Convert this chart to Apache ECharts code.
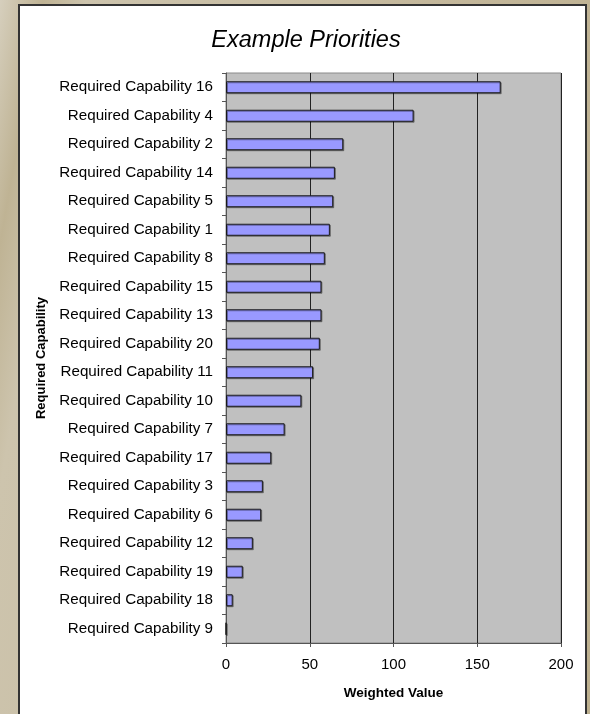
<!DOCTYPE html>
<html>
<head>
<meta charset="utf-8">
<script src="https://cdn.jsdelivr.net/npm/echarts@6/dist/echarts.min.js"></script>
<style>
  html, body { margin: 0; padding: 0; }
  body {
    width: 590px; height: 714px; overflow: hidden; position: relative;
    background: linear-gradient(100deg, #d6cfbd 0%, #bfb394 6%, #cdc4ad 12%, #c4b89c 60%, #bdb08f 100%);
  }
  #frame {
    position: absolute; left: 18px; top: 4px; width: 565px; height: 730px;
    background: #fff; border: 2px solid #333;
  }
  #main { position: absolute; left: 0; top: 0; width: 590px; height: 714px; }
</style>
</head>
<body>
<div id="frame"></div>
<div id="main"></div>
<script>
// categories, top to bottom
let capabilities = [
  'Required Capability 16', 'Required Capability 4', 'Required Capability 2',
  'Required Capability 14', 'Required Capability 5', 'Required Capability 1',
  'Required Capability 8', 'Required Capability 15', 'Required Capability 13',
  'Required Capability 20', 'Required Capability 11', 'Required Capability 10',
  'Required Capability 7', 'Required Capability 17', 'Required Capability 3',
  'Required Capability 6', 'Required Capability 12', 'Required Capability 19',
  'Required Capability 18', 'Required Capability 9'
];
// weighted value per capability
let weighted = [164, 112, 70, 65, 64, 62, 59, 57, 57, 56, 52, 45, 35, 27, 22, 21, 16, 10, 4, 0];

let xMin = 0;
let xMax = 200;
let xStep = 50;

var myChart = echarts.init(document.getElementById('main'));
var option;
option = {
  backgroundColor: 'transparent',
  animation: false,
  title: {
    text: 'Example Priorities',
    left: 301,
    top: 24,
    textAlign: 'center',
    textStyle: {
      fontFamily: 'Liberation Sans',
      fontSize: 23.5,
      fontStyle: 'italic',
      fontWeight: 'normal',
      color: '#000'
    }
  },
  grid: {
    left: 226, top: 73, right: 29, bottom: 71,
    show: true,
    backgroundColor: '#c0c0c0',
    borderColor: '#8a8a8a',
    borderWidth: 1
  },
  xAxis: {
    type: 'value',
    min: xMin, max: xMax, interval: xStep,
    name: 'Weighted Value',
    nameLocation: 'middle',
    nameGap: 43,
    nameTextStyle: { fontFamily: 'Liberation Sans', fontSize: 13.5, fontWeight: 'bold', color: '#000' },
    axisLine: { show: true, lineStyle: { color: '#555', width: 1 } },
    axisTick: { show: true, length: 4, lineStyle: { color: '#555' } },
    axisLabel: { margin: 14, fontFamily: 'Liberation Sans', fontSize: 15, color: '#000' },
    splitLine: { show: true, lineStyle: { color: '#222', width: 1 } }
  },
  yAxis: {
    type: 'category',
    data: capabilities,
    inverse: true,
    name: 'Required Capability',
    nameLocation: 'middle',
    nameGap: 178,
    nameRotate: 90,
    nameTextStyle: { fontFamily: 'Liberation Sans', fontSize: 13, fontWeight: 'bold', color: '#000' },
    axisLine: { show: true, lineStyle: { color: '#555', width: 1 } },
    axisTick: { show: true, length: 4, lineStyle: { color: '#555' } },
    axisLabel: { margin: 13, fontFamily: 'Liberation Sans', fontSize: 15.2, color: '#000' }
  },
  series: [{
    type: 'bar',
    data: weighted,
    barWidth: 12,
    itemStyle: {
      color: '#9999ff',
      borderColor: '#1a1a1a',
      borderWidth: 1,
      shadowColor: 'rgba(0,0,0,0.35)',
      shadowOffsetX: 1,
      shadowOffsetY: 1
    }
  }]
};
myChart.setOption(option);
</script>
</body>
</html>
